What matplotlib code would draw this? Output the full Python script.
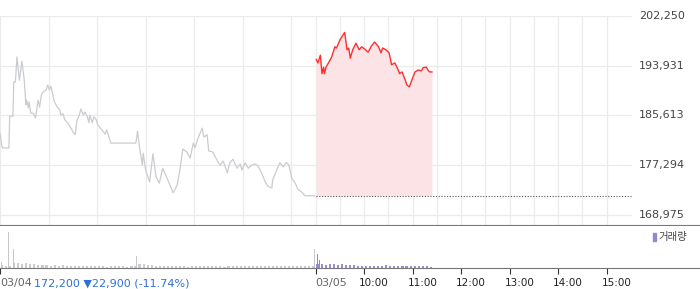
import matplotlib
matplotlib.use('Agg')
import matplotlib.pyplot as plt
import matplotlib.transforms as mtransforms
from matplotlib.patches import Rectangle

plt.rcParams['font.family'] = ['DejaVu Sans', 'Noto Sans CJK KR']

# 03/04 session, minutes after 09:00
prev_min = [0, 2, 3, 11, 12, 16, 17, 19, 21, 24, 27, 30, 32, 33, 35, 36, 38, 41, 44, 47,
            49, 51, 53, 57, 59, 61, 63, 64, 67, 70, 74, 75, 78, 80, 83, 87, 90, 93, 95, 98,
            100, 103, 105, 108, 110, 111, 114, 116, 119, 121, 126, 130, 132, 137, 168, 170,
            173, 176, 177, 180, 185, 189, 193, 197, 201, 206, 210, 214, 219, 222, 226, 231,
            235, 239, 241, 245, 250, 252, 256, 258, 263, 268, 272, 276, 281, 284, 288, 293,
            297, 299, 303, 307, 311, 315, 319, 324, 328, 331, 336, 337, 342, 346, 350, 354,
            357, 361, 365, 368, 373, 377, 389]
prev_price = [182700, 180700, 180200, 180200, 185500, 185500, 191200, 191200, 195400, 191500,
              194700, 191500, 187400, 188200, 186900, 187900, 186000, 186000, 185200, 188200,
              187000, 189000, 189500, 189900, 190700, 189900, 190500, 189900, 188000, 187200,
              186500, 185700, 185900, 184900, 184500, 183700, 182900, 182400, 184700, 185700,
              186700, 185700, 186200, 185400, 184400, 185700, 184400, 185400, 184900, 184000,
              183200, 182500, 183200, 181000, 181000, 183000, 179800, 177300, 179300, 176500,
              174500, 179200, 175300, 174300, 176800, 175300, 174000, 172700, 174000, 176200,
              180000, 179500, 178500, 181000, 180200, 181900, 183500, 182000, 182400, 179700,
              179500, 178200, 177300, 178000, 176000, 177700, 178300, 176800, 177500, 176500,
              177700, 176800, 177300, 177500, 177200, 175800, 174500, 173800, 173500, 174800,
              176500, 177700, 177000, 177800, 177300, 175000, 174300, 173300, 172800, 172200,
              172200]

# 03/05 session, minutes after 09:00
cur_min = [1, 3, 6, 8, 10, 11, 13, 16, 20, 24, 26, 30, 36, 39, 41, 43, 46, 50, 54, 57,
           61, 65, 69, 73, 78, 81, 83, 87, 91, 94, 98, 101, 104, 107, 111, 113, 116, 119, 123, 127,
           131, 133, 137, 139, 141, 144]
cur_price = [195000, 194400, 195700, 192600, 193700, 192600, 193700, 194400, 195400, 197100,
             196900, 198200, 199500, 196600, 196900, 195200, 196600, 197700, 196600, 197100,
             196700, 196200, 197200, 197900, 197100, 196100, 196900, 196600, 196100, 194100,
             194400, 193600, 192600, 192900, 191500, 190700, 190400, 191500, 192900, 193200,
             193100, 193600, 193700, 193200, 192900, 192900]

prev_close = 172200
price_ticks = [168975, 177294, 185613, 193931, 202250]

# volume (thousand shares), 5-minute buckets plus single-minute spikes
prev_vol = [3, 2, 2, 5, 5, 4, 5, 4, 4, 3, 3, 3, 2, 3, 2, 3, 2, 2, 2, 2,
            2, 2, 2, 2, 2, 2, 1, 2, 2, 2, 2, 1, 2, 2, 4, 4, 3, 3, 2, 2,
            2, 2, 2, 2, 2, 2, 1, 2, 2, 2, 2, 2, 2, 2, 2, 1, 2, 2, 2, 2,
            2, 2, 2, 2, 2, 2, 2, 2, 2, 2, 2, 2, 2, 2, 2, 2, 2, 2]
prev_spike_min = [0, 2, 11, 17, 169, 389]
prev_spike_vol = [18, 6, 36, 19, 12, 19]
cur_vol = [4, 4, 3, 4, 4, 3, 4, 3, 3, 3, 2, 2, 2, 2, 2, 2, 2, 3, 2, 2,
           2, 2, 2, 2, 2, 2, 2, 2, 1]
cur_spike_min = [3, 5]
cur_spike_vol = [14, 8]

hour_labels = ['10:00', '11:00', '12:00', '13:00', '14:00', '15:00']

day = 390
xmax = 2 * day * 700 / 631

fig = plt.figure(figsize=(7, 2.89), dpi=100)
ax = fig.add_axes([0, 1 - 225 / 289, 1, 209 / 289])
axv = fig.add_axes([0, 1 - 268 / 289, 1, 42 / 289])

grid_c = '#ebebeb'
for t in range(0, 2 * day, 60):
    ax.axvline(t, color=grid_c, lw=0.9, zorder=0)
for t in range(day, 2 * day, 60):
    ax.axvline(t, color=grid_c, lw=0.9, zorder=0)
ax.hlines(price_ticks, 0, 2 * day, color=grid_c, lw=0.9, zorder=0)

ax.plot(prev_min, prev_price, color='#cbccd0', lw=0.9)
cur_x = [day + m for m in cur_min]
ax.fill_between(cur_x, cur_price, prev_close, color='#fce4e6', lw=0)
ax.plot(cur_x, cur_price, color='#ff2d2d', lw=1)
ax.hlines(prev_close, day, 2 * day, color='#555555', lw=0.8, linestyles=(0, (1, 1.5)))

ax.set_xlim(0, xmax)
ax.set_ylim(168975 - 10 * 33275 / 199, 202250)
ax.set_xticks([])
ax.set_yticks([])
for s in ['top', 'left', 'right']:
    ax.spines[s].set_visible(False)
ax.spines['bottom'].set_color('#777777')
ax.patch.set_alpha(0)

ytr = mtransforms.blended_transform_factory(ax.transAxes, ax.transData)
for p in price_ticks:
    ax.text(639 / 700, p, f'{p:,}', transform=ytr, ha='left', va='center',
            fontsize=8, color='#444444', clip_on=False)

# volume panel
axv.bar([5 * i + 2.5 for i in range(len(prev_vol))], prev_vol, width=2.6, color='#cbccd0', lw=0)
axv.bar(prev_spike_min, prev_spike_vol, width=1.1, color='#c6c7cb', lw=0)
axv.bar([day + 5 * i + 2.5 for i in range(len(cur_vol))], cur_vol, width=2.6, color='#a08ccd', lw=0)
axv.bar([day + m for m in cur_spike_min], cur_spike_vol, width=1.1, color='#9a84cb', lw=0)
axv.set_xlim(0, xmax)
axv.set_ylim(0, 42)
axv.set_yticks([])
tick_pos = [0] + list(range(day, 2 * day, 60))
axv.set_xticks(tick_pos)
axv.set_xticklabels([])
axv.tick_params(axis='x', direction='out', length=4, width=0.8, color='#333333')
for s in ['top', 'left', 'right']:
    axv.spines[s].set_visible(False)
axv.spines['bottom'].set_color('#777777')

xtr = mtransforms.blended_transform_factory(axv.transData, axv.transAxes)
lab_y = -0.36
axv.text(0, lab_y, '03/04', transform=xtr, ha='left', va='center', fontsize=8, color='#666666')
axv.text(42, lab_y, '172,200 \u25bc22,900 (-11.74%)', transform=xtr, ha='left', va='center',
         fontsize=8, color='#2f6fd8')
axv.text(day, lab_y, '03/05', transform=xtr, ha='left', va='center', fontsize=8, color='#666666')
shift = mtransforms.offset_copy(xtr, fig=fig, x=-5, units='dots')
for i, lab in enumerate(hour_labels):
    axv.text(day + 60 * (i + 1), lab_y, lab, transform=shift, ha='left', va='center',
             fontsize=7.5, color='#222222')

fig.patches.append(Rectangle((653 / 700, 1 - 241 / 289), 3 / 700, 8 / 289,
                             transform=fig.transFigure, color='#9a84cb'))
fig.text(658 / 700, 1 - 237 / 289, '거래량', ha='left', va='center', fontsize=7.5, color='#444444')

fig.savefig('out.png', dpi=100)
